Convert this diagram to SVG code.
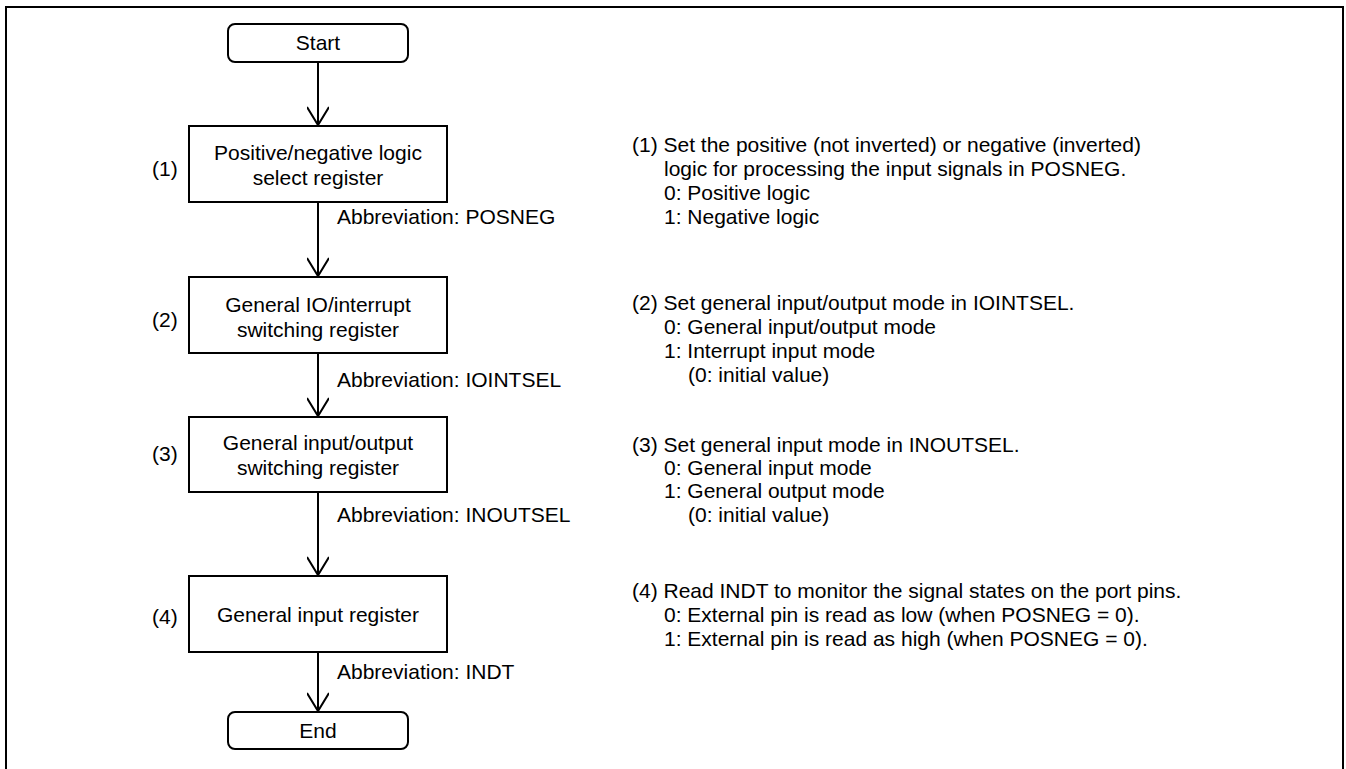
<svg xmlns="http://www.w3.org/2000/svg" width="1346" height="769" viewBox="0 0 1346 769">
<style>
text{font-family:"Liberation Sans",Arial,sans-serif;font-size:21px;fill:#000}
.c{text-anchor:middle}
.box{fill:#fff;stroke:#000;stroke-width:2}
.ln{stroke:#000;stroke-width:2;fill:none}
</style>
<defs>
<marker id="ah" markerUnits="userSpaceOnUse" markerWidth="26" markerHeight="22" refX="20" refY="11" orient="auto">
<path d="M2,0 L20,11 L2,22" fill="none" stroke="#000" stroke-width="2"/>
</marker>
</defs>
<rect x="6" y="7" width="1337" height="780" fill="#fff" stroke="#000" stroke-width="2"/>
<g id="connectors">
<line class="ln" x1="318" y1="62" x2="318" y2="125" marker-end="url(#ah)"/>
<line class="ln" x1="318" y1="202" x2="318" y2="276" marker-end="url(#ah)"/>
<line class="ln" x1="318" y1="353" x2="318" y2="416" marker-end="url(#ah)"/>
<line class="ln" x1="318" y1="492" x2="318" y2="575" marker-end="url(#ah)"/>
<line class="ln" x1="318" y1="652" x2="318" y2="711" marker-end="url(#ah)"/>
<text x="337" y="224">Abbreviation: POSNEG</text>
<text x="337" y="387">Abbreviation: IOINTSEL</text>
<text x="337" y="522">Abbreviation: INOUTSEL</text>
<text x="337" y="679">Abbreviation: INDT</text>
</g>
<g id="start">
<rect class="box" x="228" y="24" width="180" height="38" rx="7"/>
<text class="c" x="318" y="50">Start</text>
</g>
<g id="step1">
<rect class="box" x="189" y="126" width="258" height="76"/>
<text class="c" x="318" y="160">Positive/negative logic</text>
<text class="c" x="318" y="185">select register</text>
<text x="152" y="176">(1)</text>
</g>
<g id="step2">
<rect class="box" x="189" y="277" width="258" height="76"/>
<text class="c" x="318" y="312">General IO/interrupt</text>
<text class="c" x="318" y="337">switching register</text>
<text x="152" y="327">(2)</text>
</g>
<g id="step3">
<rect class="box" x="189" y="417" width="258" height="75"/>
<text class="c" x="318" y="450">General input/output</text>
<text class="c" x="318" y="475">switching register</text>
<text x="152" y="461">(3)</text>
</g>
<g id="step4">
<rect class="box" x="189" y="576" width="258" height="76"/>
<text class="c" x="318" y="622">General input register</text>
<text x="152" y="624">(4)</text>
</g>
<g id="end">
<rect class="box" x="228" y="712" width="180" height="37" rx="7"/>
<text class="c" x="318" y="738">End</text>
</g>
<g id="notes">
<text x="632" y="152">(1) Set the positive (not inverted) or negative (inverted)</text>
<text x="664" y="176">logic for processing the input signals in POSNEG.</text>
<text x="664" y="200">0: Positive logic</text>
<text x="664" y="224">1: Negative logic</text>
<text x="632" y="310">(2) Set general input/output mode in IOINTSEL.</text>
<text x="664" y="334">0: General input/output mode</text>
<text x="664" y="358">1: Interrupt input mode</text>
<text x="688" y="382">(0: initial value)</text>
<text x="632" y="452">(3) Set general input mode in INOUTSEL.</text>
<text x="664" y="475">0: General input mode</text>
<text x="664" y="498">1: General output mode</text>
<text x="688" y="522">(0: initial value)</text>
<text x="632" y="598">(4) Read INDT to monitor the signal states on the port pins.</text>
<text x="664" y="622">0: External pin is read as low (when POSNEG = 0).</text>
<text x="664" y="646">1: External pin is read as high (when POSNEG = 0).</text>
</g>
</svg>
